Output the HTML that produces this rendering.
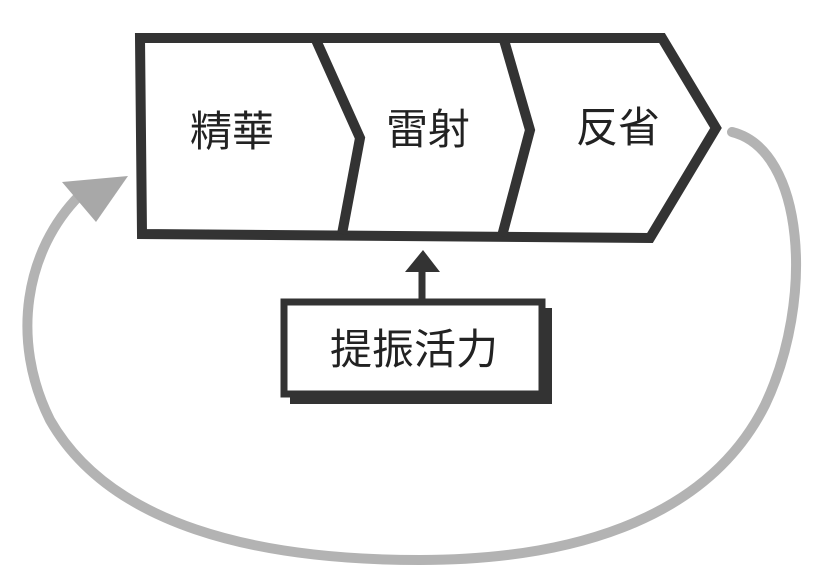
<!DOCTYPE html>
<html><head><meta charset="utf-8"><style>
html,body{margin:0;padding:0;background:#fff;}
svg{display:block}
text{font-family:"Liberation Sans","Noto Sans CJK TC","Noto Sans CJK SC",sans-serif;fill:#222;}
</style></head><body>
<svg width="820" height="574" viewBox="0 0 820 574" xmlns="http://www.w3.org/2000/svg">
<path d="M732 132 C805 150 815 300 765 405 C705 525 560 560 420 560 C255 560 110 525 50 420 C10 340 25 250 80 195" fill="none" stroke="#b3b3b3" stroke-width="10" stroke-linecap="round"/>
<polygon points="62,182 128,176 96,222" fill="#a8a8a8"/>
<path d="M140 38 L662 38 L716 128 L650 238 L142 234 Z" fill="#fff" stroke="#333" stroke-width="10" stroke-linejoin="miter"/>
<path d="M316 40 L360 138 L342 234" fill="none" stroke="#333" stroke-width="10"/>
<path d="M504 40 L530 130 L502 236" fill="none" stroke="#333" stroke-width="10"/>
<text x="232" y="146" font-size="42" text-anchor="middle">精華</text>
<text x="428" y="144" font-size="42" text-anchor="middle">雷射</text>
<text x="618" y="142" font-size="42" text-anchor="middle">反省</text>
<line x1="422" y1="300" x2="422" y2="268" stroke="#333" stroke-width="7"/>
<polygon points="405,272 440,272 423,250" fill="#333"/>
<rect x="290" y="308" width="262" height="96" fill="#333"/>
<rect x="284" y="302" width="258" height="92" fill="#fff" stroke="#333" stroke-width="7"/>
<text x="414" y="364" font-size="42" text-anchor="middle">提振活力</text>
</svg>
</body></html>
